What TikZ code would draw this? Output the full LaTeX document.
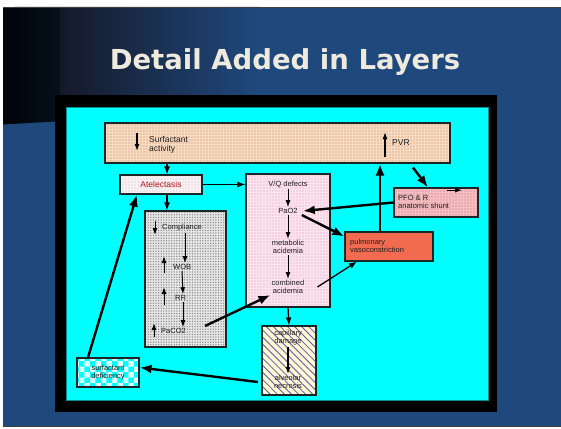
\documentclass[tikz,border=0pt]{standalone}
\usepackage{fontspec}
\setmainfont{Liberation Sans}
\newfontfamily\titlefont{DejaVu Sans}
\usetikzlibrary{arrows.meta,patterns,patterns.meta}

\definecolor{slideblue}{HTML}{1F497D}
\definecolor{topblack}{HTML}{01060B}
\definecolor{topnavy}{HTML}{06111C}
\definecolor{topgrey}{HTML}{151829}
\definecolor{titlecol}{HTML}{EEEBDE}
\definecolor{panel}{HTML}{00FFFF}
\definecolor{panelline}{HTML}{0A8C8C}
\definecolor{boxline}{HTML}{1C2626}
\definecolor{peach}{HTML}{F8DCC2}
\definecolor{peachdot}{HTML}{C47A5C}
\definecolor{atelfill}{HTML}{F8F2F4}
\definecolor{ateldot}{HTML}{DDB8C6}
\definecolor{ateltext}{HTML}{B0161C}
\definecolor{greyfill}{HTML}{E6E6E6}
\definecolor{greydot}{HTML}{8C8C8C}
\definecolor{pinkfill}{HTML}{FCE4EE}
\definecolor{pinkdot}{HTML}{E09AB6}
\definecolor{salmon}{HTML}{F26B50}
\definecolor{rosefill}{HTML}{F4BEC2}
\definecolor{rosedot}{HTML}{C86C70}
\definecolor{creamfill}{HTML}{FFF6D2}
\definecolor{hatchblue}{HTML}{5A5AAE}
\definecolor{textcol}{HTML}{202020}

\tikzset{
	box/.style={draw=boxline, line width=1.1pt, inner sep=0pt},
	patbox/.style n args={3}{box, preaction={fill=#1}, preaction={pattern={#2}, pattern color=#3}},
	dotbox/.style 2 args={patbox={#1}{Dots[distance=3pt,radius=0.6pt]}{#2}},
	txt/.style={inner sep=1pt, align=left, text=textcol, font=\fontsize{7.5}{8}\selectfont},
	bigtxt/.style={txt, font=\fontsize{8.5}{9.5}\selectfont},
	bigarr/.style={line width=2.4pt, -{Latex[length=12pt,width=9pt]}},
	midarr/.style={line width=1.3pt, -{Latex[length=8pt,width=6pt]}},
	smallarr/.style={line width=1pt, -{Latex[length=7pt,width=5pt]}},
}

\begin{document}
\begin{tikzpicture}[x=1pt,y=-1pt]
	\useasboundingbox (0,0) rectangle (561,428);
	% slide
	\fill[white] (0,0) rectangle (561,428);
	\fill[slideblue] (3,7) rectangle (561,427);
	\begin{scope}
		\clip (3,7) -- (561,7) -- (561,120) -- (55,121.5) -- (3,124.5) -- cycle;
		\fill[topblack] (3,7) rectangle (14,125);
		\shade[left color=topblack, right color=topnavy] (14,7) rectangle (60,125);
		\shade[left color=topgrey, right color=slideblue] (60,7) rectangle (260,125);
	\end{scope}
	\draw[black!75, line width=0.8pt] (3,7.4) -- (561,7.4);
	\draw[black!75, line width=0.8pt] (3,426.6) -- (561,426.6);
	\node[text=titlecol, font=\titlefont\bfseries\fontsize{27.5}{32}\selectfont] (title) at (285,62) {Detail Added in Layers};

	% panel
	\fill[black] (55,95) rectangle (497,412);
	\draw[fill=panel, draw=panelline, line width=0.8pt] (66,107) rectangle (488,400);

	% boxes
	\node[dotbox={peach}{peachdot}, minimum width=345pt, minimum height=40pt] (surfbox) at (277.5,143) {};
	\node[dotbox={atelfill}{ateldot}, minimum width=82pt, minimum height=19pt, text=ateltext, font=\fontsize{8.5}{9}\selectfont] (atel) at (161,184.5) {Atelectasis};
	\node[patbox={greyfill}{Dots[distance=2.6pt,radius=0.75pt]}{greydot}, minimum width=81pt, minimum height=136pt] (compbox) at (185.5,279) {};
	\node[dotbox={pinkfill}{pinkdot}, minimum width=84pt, minimum height=133pt] (vqbox) at (288,240.5) {};
	\node[box, fill=salmon, minimum width=88pt, minimum height=29pt] (pulm) at (389,246.5) {};
	\node[dotbox={rosefill}{rosedot}, minimum width=84pt, minimum height=29pt] (pfo) at (436,202.5) {};
	\node[patbox={creamfill}{Lines[angle=-45,distance=5pt,line width=0.8pt]}{hatchblue}, minimum width=54pt, minimum height=69pt] (capbox) at (289,360.5) {};
	\node[box, preaction={fill=panel}, preaction={pattern=checkerboard, pattern color=white!85!panel}, minimum width=62pt, minimum height=29pt] (defbox) at (108,372.5) {};

	% texts
	\node[bigtxt, anchor=west] (surf) at (148,145) {Surfactant\\activity};
	\node[bigtxt, anchor=west] (pvr) at (391,143) {PVR};
	\node[txt, anchor=west] (compl) at (161,228) {Compliance};
	\node[txt, anchor=west] (wob) at (172,267) {WOB};
	\node[txt, anchor=west] (rr) at (174,298) {RR};
	\node[txt, anchor=west] (paco) at (160,331) {PaCO2};
	\node[txt] (vqd) at (288,184) {V/Q defects};
	\node[txt] (pao) at (288,211) {PaO2};
	\node[txt, align=center] (met) at (288,247) {metabolic\\acidemia};
	\node[txt, align=center] (comb) at (288,287) {combined\\acidemia};
	\node[txt, anchor=west] (pulmtxt) at (349,246) {pulmonary\\vasoconstriction};
	\node[txt, anchor=west] (pfotxt) at (397,202) {PFO \& R\\anatomic shunt};
	\node[txt, align=center] (capd) at (288,338) {capillary\\damage};
	\node[txt, align=center] (necr) at (288,382) {alveolar\\necrosis};
	\node[txt, align=center] (deftxt) at (108,372.5) {surfactant\\deficiency};

	% up and down marks
	\draw[smallarr, line width=1.3pt] ([xshift=-11pt]surf.west) +(0,-12) -- +(0,6);
	\draw[smallarr, line width=1.3pt] ([xshift=-6pt]pvr.west) +(0,14) -- +(0,-11);
	\draw[smallarr] ([xshift=-6pt]compl.west) +(0,-7) -- +(0,7);
	\draw[smallarr] ([xshift=-8pt]wob.west) +(0,6) -- +(0,-11);
	\draw[smallarr] ([xshift=-10pt]rr.west) +(0,7) -- +(0,-11);
	\draw[smallarr] ([xshift=-6pt]paco.west) +(0,6) -- +(0,-8);
	\draw[smallarr] ([xshift=50pt]pfotxt.north west) +(0,-4) -- +(15,-4);
	% links inside boxes
	\draw[smallarr] ([xshift=24pt]compl.south west) -- ([xshift=13pt]wob.north west);
	\draw[smallarr] ([xshift=10pt]wob.south west) -- ([xshift=9pt]rr.north west);
	\draw[smallarr] ([xshift=9pt]rr.south west) -- ([xshift=23pt]paco.north west);
	\draw[smallarr] (vqd) -- (pao);
	\draw[smallarr] (pao) -- (met);
	\draw[smallarr] (met) -- (comb);
	\draw[smallarr, line width=1.3pt] (capd) -- (necr);

	% links between boxes
	\draw[midarr] ([xshift=6pt]atel.north |- surfbox.south) -- ([xshift=6pt]atel.north);
	\draw[midarr] (atel.east) -- (vqbox.west |- atel.east);
	\draw[midarr] ([xshift=6pt]atel.south) -- ([xshift=6pt]atel.south |- compbox.north);
	\draw[bigarr] (pfo.west) -- ([xshift=4pt]pao.east);
	\draw[bigarr] ([xshift=-9pt]pulm.north) -- ([xshift=-9pt]pulm.north |- surfbox.south);
	\draw[bigarr] ([xshift=-23pt,yshift=-4pt]pfo.north |- surfbox.south) -- ([xshift=-8pt]pfo.north);
	\draw[bigarr] ([xshift=3pt,yshift=-4pt]pao.east) -- ([yshift=-5pt]pulm.north west);
	\draw[midarr] ([xshift=12pt]comb.east) -- ([xshift=-32pt]pulm.south);
	\draw[bigarr] ([xshift=18pt,yshift=5pt]paco.east) -- (comb.south west);
	\draw[midarr] (vqbox.south) -- (capbox.north);
	\draw[bigarr] ([xshift=-15pt]necr.west) -- ([yshift=5pt]defbox.east);
	\draw[bigarr] ([xshift=-20pt]defbox.north) -- ([xshift=-24pt]atel.south);
\end{tikzpicture}
\end{document}
